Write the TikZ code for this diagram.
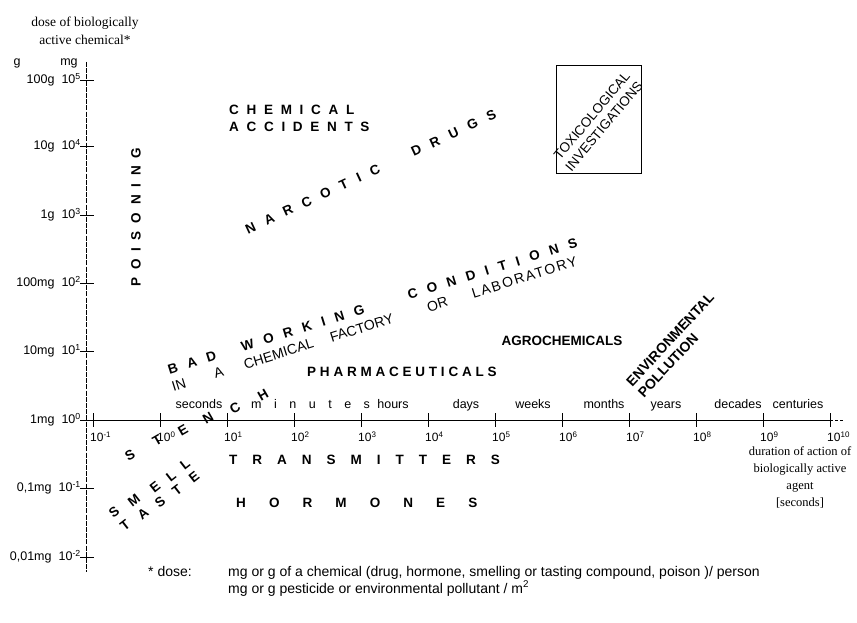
\documentclass[tikz,border=0pt]{standalone}
\usepackage{fontspec}
\setmainfont{Liberation Sans}
\newfontfamily\serifface{Liberation Serif}
\newcommand\lsp[2]{{\addfontfeature{LetterSpace=#1}#2}}
\begin{document}
\begin{tikzpicture}[x=1pt,y=-1pt,
  axisline/.style={line width=0.8pt},
  tickline/.style={line width=0.7pt},
  ylab/.style={anchor=east,inner sep=0pt,font=\fontsize{12.5}{14}\selectfont},
  xlab/.style={anchor=west,inner sep=0pt,font=\fontsize{12}{13}\selectfont},
  tlab/.style={inner sep=0pt,anchor=base,font=\fontsize{12.5}{14}\selectfont},
  big/.style={inner sep=0pt,font=\fontsize{13.5}{15}\selectfont\bfseries},
  letter/.style={inner sep=0pt,font=\fontsize{13.5}{15}\selectfont\bfseries},
  serifnote/.style={inner sep=0pt,align=center,font=\serifface\fontsize{13.5}{18}\selectfont},
  foot/.style={inner sep=0pt,anchor=base west,font=\fontsize{14}{16}\selectfont}]
\path[use as bounding box,fill=white] (0,0) rectangle (857,623);

% y axis
\coordinate (ytop) at (86,62);
\coordinate (ybot) at (86,572);
\draw[axisline,dash pattern=on 5pt off 1.2pt] (ytop) -- (ybot);
\node[serifnote] (ytitle) at (85,31) {dose of biologically\\active chemical*};
\node[ylab,anchor=center] (gunit) at (17,63) {g};
\node[ylab,anchor=center] (mgunit) at (69,63) {mg};
\foreach \e/\u/\y [count=\i] in {5/100g/80,4/10g/146,3/1g/215,2/100mg/283,1/10mg/351,0/1mg/420,-1/{0,1mg}/488,-2/{0,01mg}/557}{
  \draw[tickline] (80,\y) -- (94,\y);
  \node[ylab] (yl\i) at (81,\y) {\u\hspace{7pt}10\textsuperscript{\e}};
}

% x axis
\coordinate (xl) at (93,420);
\coordinate (xr) at (830,420);
\coordinate (xend) at (844,420);
\draw[axisline] (xl) -- (xr);
\draw[axisline,dash pattern=on 3pt off 2pt] (xr) -- (xend);
\foreach \k in {0,...,11}{
  \pgfmathsetmacro\xx{93+67*\k}
  \pgfmathtruncatemacro\ex{\k-1}
  \draw[tickline] (\xx,413) -- (\xx,427);
  \node[xlab] (xt\k) at (\xx-3,437) {10\textsuperscript{\ex}};
}
\node[tlab] (tsec) at (199,408) {seconds};
\node[tlab,anchor=base west] (tmin) at (251,408) {\lsp{100}{minutes}};
\node[tlab] (thour) at (393,408) {hours};
\node[tlab] (tday) at (466,408) {days};
\node[tlab] (tweek) at (533,408) {weeks};
\node[tlab] (tmonth) at (604,408) {months};
\node[tlab] (tyear) at (666,408) {years};
\node[tlab] (tdec) at (738,408) {decades};
\node[tlab] (tcent) at (798,408) {centuries};
\node[serifnote,anchor=north,font=\serifface\fontsize{12.5}{17}\selectfont] (xtitle) at (800,446)
  {duration of action of\\biologically active\\agent\\{[}seconds{]}};

% regions
\node[big,anchor=west] (chem1) at (229,110) {\lsp{57}{CHEMICAL}};
\node[big,anchor=west] (chem2) at (229,127) {\lsp{57}{ACCIDENTS}};
\node[big,anchor=west,rotate=90] (poison) at (136,287) {\lsp{58}{POISONING}};
\node[big,anchor=west,rotate=25] (narc) at (246,230) {\lsp{80}{NARCOTIC}\hspace{36pt}\lsp{80}{DRUGS}};
\node[letter,anchor=west,rotate=17.3] (bad) at (168,370)
  {\lsp{76}{BAD}\hspace{27pt}\lsp{76}{WORKING}\hspace{46pt}\lsp{76}{CONDITIONS}};
\node[inner sep=0pt,anchor=west,rotate=17.3,font=\fontsize{14}{16}\selectfont] (inlab) at (172,387)
  {IN\hspace{30pt}A\hspace{22pt}CHEMICAL\hspace{18pt}FACTORY\hspace{36pt}OR\hspace{26pt}\lsp{12}{LABORATORY}};
\node[big,anchor=west] (pharma) at (307,372) {\lsp{28}{PHARMACEUTICALS}};
\node[big] (agro) at (562,341) {AGROCHEMICALS};
\node[inner sep=0pt,align=left,rotate=47,font=\fontsize{14}{16}\selectfont\bfseries] (envir) at (676,345)
  {ENVIRONMENTAL\\POLLUTION};
\node[draw,line width=0.8pt,minimum width=85pt,minimum height=108pt] (toxbox) at (598.5,119) {};
\node[inner sep=0pt,align=center,rotate=50,font=\fontsize{13.5}{16}\selectfont] (toxtext) at (598,121)
  {TOXICOLOGICAL\\INVESTIGATIONS};
\node[big,anchor=west] (trans) at (229,460) {\lsp{111}{TRANSMITTERS}};
\node[big,anchor=west] (horm) at (236,503) {\lsp{171}{HORMONES}};

% stench, smell, taste
\foreach \l/\x/\y [count=\i] in {S/130/455,T/157/440,E/183/430,N/208/418,C/235/408,H/263/395}
  \node[letter,rotate=30] (st\i) at (\x,\y) {\l};
\foreach \l/\x/\y [count=\i] in {S/114/512,M/134/500,E/155/487,L/171/476,L/185/464}
  \node[letter,rotate=38] (sm\i) at (\x,\y) {\l};
\foreach \l/\x/\y [count=\i] in {T/125/525,A/143/514,S/160/502,T/177/490,E/194/477}
  \node[letter,rotate=38] (ta\i) at (\x,\y) {\l};

% footnote
\node[foot] (fn0) at (148,576) {* dose:};
\node[foot] (fn1) at (228,576) {mg or g of a chemical (drug, hormone, smelling or tasting compound, poison )/ person};
\node[foot] (fn2) at (228,593) {mg or g pesticide or environmental pollutant / m\textsuperscript{2}};
\end{tikzpicture}
\end{document}
